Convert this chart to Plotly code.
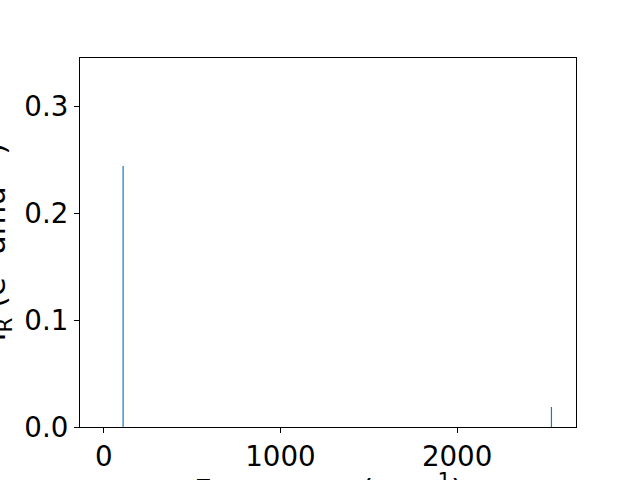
import plotly.graph_objects as go

frequencies = [109, 2534]
intensities = [0.244, 0.0187]
x_ticks = [0, 1000, 2000]
y_ticks = [0.0, 0.1, 0.2, 0.3]

# build vertical stems from the data
xs, ys = [], []
for f, v in zip(frequencies, intensities):
    xs += [f, f, None]
    ys += [0, v, None]

FONT = dict(family="DejaVu Sans", size=27.7, color="black")
LFONT = dict(family="DejaVu Sans", size=30.5, color="black")

fig = go.Figure()
fig.add_trace(go.Scatter(x=xs, y=ys, mode="lines",
                         line=dict(color="#1f77b4", width=1.2), showlegend=False,
                         hoverinfo="skip"))

L, R, T, B = 80, 64, 58, 53
W, H = 640, 480
pw, ph = W - L - R, H - T - B

fig.update_layout(
    width=W, height=H, margin=dict(l=L, r=R, t=T, b=B, autoexpand=False),
    paper_bgcolor="white", plot_bgcolor="white", font=FONT,
    xaxis=dict(range=[-135, 2673], tickvals=x_ticks, ticktext=[str(t) for t in x_ticks],
               showgrid=False, zeroline=False, showline=True, linecolor="black",
               linewidth=1.1, mirror=True, ticks="outside", ticklen=5, tickwidth=1.1,
               tickcolor="black", tickfont=FONT, automargin=False),
    yaxis=dict(range=[0, 0.345], tickvals=y_ticks, ticktext=[f"{t:.1f}" for t in y_ticks],
               showgrid=False, zeroline=False, showline=True, linecolor="black",
               linewidth=1.1, mirror=True, ticks="outside", ticklen=5, tickwidth=1.1,
               tickcolor="black", tickfont=FONT, automargin=False),
)

fig.add_annotation(text="I<sub>R</sub> (e<sup>2</sup> amu<sup>−1</sup>)",
                   xref="paper", yref="paper", x=(-6 - L) / pw, y=0.5,
                   xanchor="center", yanchor="middle", textangle=-90,
                   showarrow=False, font=LFONT)
fig.add_annotation(text="Frequency (cm<sup>−1</sup>)",
                   xref="paper", yref="paper", x=0.5, y=-(466 - (T + ph)) / ph,
                   xanchor="center", yanchor="top",
                   showarrow=False, font=LFONT)

fig.write_html("out.html", config={"displayModeBar": False},
               post_script="document.body.style.margin='0';document.body.style.overflow='hidden';")
